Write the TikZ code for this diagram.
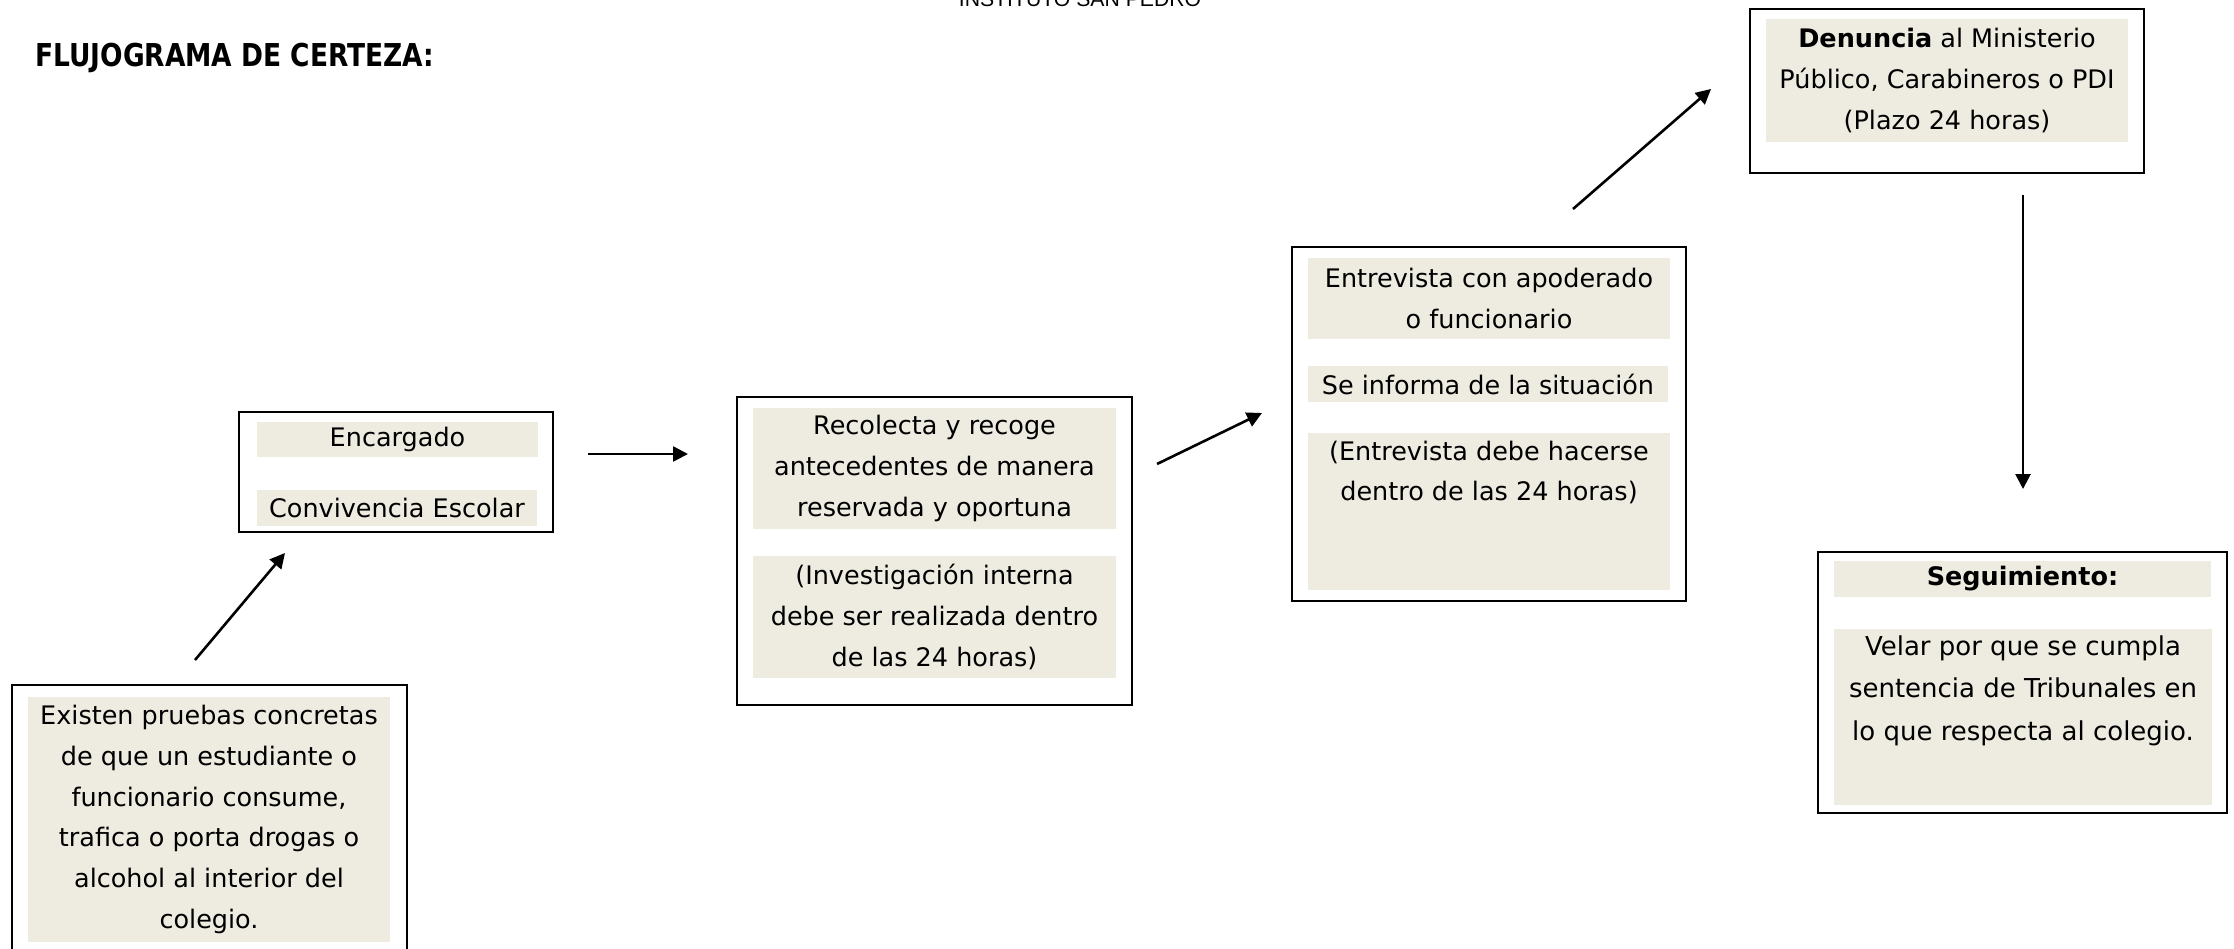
\documentclass[tikz,border=0pt]{standalone}
\usepackage{fontspec}
\setmainfont{DejaVu Sans}
\newfontfamily\headfont{Liberation Sans}
\usetikzlibrary{arrows.meta}
\definecolor{bandfill}{RGB}{238,236,225}

\begin{document}
\begin{tikzpicture}[x=1pt,y=-1pt,
    >={Triangle[length=15pt,width=15pt]},
    frame/.style={draw,line width=2pt,inner sep=0pt},
    band/.style={fill=bandfill,inner sep=0pt,align=center,font=\fontsize{25.5}{40.7}\selectfont},
    flow/.style={->,line width=2.6pt}]
  \useasboundingbox (0,0) rectangle (2234,949);
  % heading of the page
  \node[anchor=base,inner sep=0pt,font=\headfont\fontsize{21.2}{23}\selectfont] (inst) at (1080,7) {INSTITUTO SAN PEDRO};
  \node[anchor=base west,inner sep=0pt,font=\fontsize{31.5}{34}\selectfont\bfseries] (titulo) at (35,67) {\scalebox{0.84}[1]{FLUJOGRAMA DE CERTEZA:}};
  % boxes
  \node[frame,minimum width=395pt,minimum height=275pt] (hecho) at (209.5,822.5) {};
  \node[band,minimum width=362pt,minimum height=245pt] (hechoA) at (209,819.5) {Existen pruebas concretas\\de que un estudiante o\\funcionario consume,\\trafica o porta drogas o\\alcohol al interior del\\colegio.};
  \node[frame,minimum width=314pt,minimum height=120pt] (encargado) at (396,472) {};
  \node[band,minimum width=281pt,minimum height=35pt] (encargadoA) at (397.5,439.5) {Encargado};
  \node[band,minimum width=280pt,minimum height=36pt] (encargadoB) at (397,508) {Convivencia Escolar};
  \node[frame,minimum width=395pt,minimum height=308pt] (recolecta) at (934.5,551) {};
  \node[band,minimum width=363pt,minimum height=121pt] (recolectaA) at (934.5,468.5) {Recolecta y recoge\\antecedentes de manera\\reservada y oportuna};
  \node[band,minimum width=363pt,minimum height=122pt] (recolectaB) at (934.5,617) {(Investigación interna\\debe ser realizada dentro\\de las 24 horas)};
  \node[frame,minimum width=394pt,minimum height=354pt] (entrevista) at (1489,424) {};
  \node[band,minimum width=362pt,minimum height=81pt] (entrevistaA) at (1489,298.5) {Entrevista con apoderado\\o funcionario};
  \node[band,minimum width=360pt,minimum height=36pt] (entrevistaB) at (1488,384) {Se informa de la situación};
  \node[band,minimum width=362pt,minimum height=157pt] (entrevistaC) at (1489,511.5) {(Entrevista debe hacerse\\dentro de las 24 horas)\\\mbox{}\\\mbox{}};
  \node[frame,minimum width=394pt,minimum height=164pt] (denuncia) at (1947,91) {};
  \node[band,minimum width=362pt,minimum height=123pt] (denunciaA) at (1947,80.5) {\textbf{Denuncia} al Ministerio\\Público, Carabineros o PDI\\(Plazo 24 horas)};
  \node[frame,minimum width=409pt,minimum height=261pt] (seguimiento) at (2022.5,682.5) {};
  \node[band,minimum width=377pt,minimum height=36pt] (seguimientoA) at (2022.5,579) {\textbf{Seguimiento:}};
  \node[band,minimum width=378pt,minimum height=176pt,text depth=58pt,font=\fontsize{26}{42.7}\selectfont] (seguimientoB) at (2023,717) {Velar por que se cumpla\\sentencia de Tribunales en\\lo que respecta al colegio.};
  % arrows
  \coordinate (p1) at (195,660);   \coordinate (q1) at (285,553);
  \coordinate (p2) at (588,454);   \coordinate (q2) at (688,454);
  \coordinate (p3) at (1157,464);  \coordinate (q3) at (1262,413);
  \coordinate (p4) at (1573,209);  \coordinate (q4) at (1711,89);
  \coordinate (p5) at (2023,195);  \coordinate (q5) at (2023,489);
  \foreach \i in {1,...,5}
    \draw[flow] (p\i) -- (q\i);
\end{tikzpicture}
\end{document}
